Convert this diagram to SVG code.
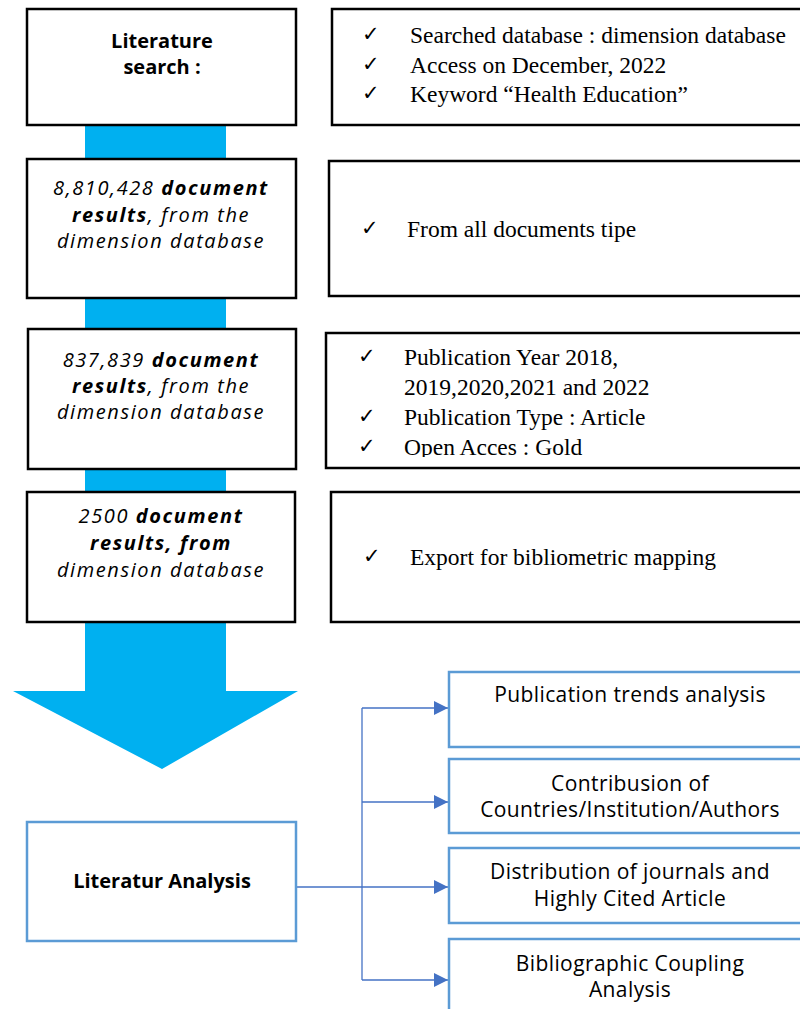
<svg xmlns="http://www.w3.org/2000/svg" width="800" height="1009" viewBox="0 0 800 1009">
<defs>
<style>
.bk{fill:#fff;stroke:#000;stroke-width:2.5}
.bl{fill:#fff;stroke:#5B9BD5;stroke-width:2.5}
.lab{font-family:"Open Sans","Noto Sans",sans-serif;font-size:20px;fill:#000;text-anchor:middle}
.b{font-weight:bold}
.it{font-family:"Open Sans","Noto Sans",sans-serif;font-size:20px;font-style:italic;letter-spacing:1.6px;fill:#000;text-anchor:middle}
.tm{font-family:"Liberation Serif","Times New Roman",serif;font-size:23.5px;fill:#000}
.ck{font-family:"DejaVu Sans",sans-serif;font-size:21px;fill:#000}
.an{font-family:"Open Sans","Noto Sans",sans-serif;font-size:21px;letter-spacing:0.4px;fill:#000;text-anchor:middle}
.cn{fill:none;stroke:#4472C4;stroke-width:1.3}
</style>
<marker id="ah" viewBox="0 0 10 10" refX="10" refY="5" markerWidth="15" markerHeight="14" markerUnits="userSpaceOnUse" orient="auto">
<path d="M0,0 L10,5 L0,10 z" fill="#4472C4"/>
</marker>
<clipPath id="clip3"><rect x="326" y="333" width="480" height="124"/></clipPath>
</defs>

<g id="flow-arrow">
<polygon points="85,125 226,125 226,691 298,691 162,769 13,691 85,691" fill="#00B0F0"/>
</g>

<g id="search">
<rect class="bk" x="27" y="9" width="269" height="116"/>
<text class="lab b" x="162" y="48">Literature</text>
<text class="lab b" x="162" y="74">search :</text>
</g>
<g id="search-criteria">
<rect class="bk" x="332" y="9" width="480" height="116"/>
<text class="ck" x="362" y="41">✓</text><text class="tm" x="410" y="43">Searched database : dimension database</text>
<text class="ck" x="362" y="71">✓</text><text class="tm" x="410" y="73">Access on December, 2022</text>
<text class="ck" x="362" y="100">✓</text><text class="tm" x="410" y="102">Keyword “Health Education”</text>
</g>

<g id="results-1">
<rect class="bk" x="27" y="159" width="269" height="139"/>
<text class="it" x="161" y="195">8,810,428 <tspan font-weight="bold">document</tspan></text>
<text class="it" x="161" y="222"><tspan font-weight="bold">results</tspan>, from the</text>
<text class="it" x="161" y="248">dimension database</text>
</g>
<g id="filter-1">
<rect class="bk" x="329" y="161" width="480" height="135"/>
<text class="ck" x="361" y="235">✓</text><text class="tm" x="407" y="237">From all documents tipe</text>
</g>

<g id="results-2">
<rect class="bk" x="28" y="329" width="268" height="140"/>
<text class="it" x="161" y="367">837,839 <tspan font-weight="bold">document</tspan></text>
<text class="it" x="161" y="393"><tspan font-weight="bold">results</tspan>, from the</text>
<text class="it" x="161" y="419">dimension database</text>
</g>
<g id="filter-2">
<rect class="bk" x="326" y="333" width="480" height="135"/>
<g clip-path="url(#clip3)">
<text class="ck" x="358" y="363">✓</text><text class="tm" x="404" y="365">Publication Year 2018,</text>
<text class="tm" x="404" y="395">2019,2020,2021 and 2022</text>
<text class="ck" x="358" y="423">✓</text><text class="tm" x="404" y="425">Publication Type : Article</text>
<text class="ck" x="358" y="453">✓</text><text class="tm" x="404" y="455">Open Acces : Gold</text>
</g>
</g>

<g id="results-3">
<rect class="bk" x="27" y="492" width="268" height="130"/>
<text class="it" x="161" y="523">2500 <tspan font-weight="bold">document</tspan></text>
<text class="it" x="161" y="550" font-weight="bold">results, from</text>
<text class="it" x="161" y="577">dimension database</text>
</g>
<g id="export">
<rect class="bk" x="331" y="492" width="480" height="130"/>
<text class="ck" x="363" y="563">✓</text><text class="tm" x="410" y="565">Export for bibliometric mapping</text>
</g>

<g id="connectors">
<path class="cn" d="M296,887 H362"/>
<path class="cn" d="M362,708 V980"/>
<path class="cn" d="M362,708 H448" marker-end="url(#ah)"/>
<path class="cn" d="M362,802 H448" marker-end="url(#ah)"/>
<path class="cn" d="M362,887 H448" marker-end="url(#ah)"/>
<path class="cn" d="M362,980 H448" marker-end="url(#ah)"/>
</g>

<g id="literature-analysis">
<rect class="bl" x="27" y="822" width="269" height="119"/>
<text class="lab b" x="162" y="888">Literatur Analysis</text>
</g>
<g id="publication-trends">
<rect class="bl" x="449" y="672" width="370" height="75"/>
<text class="an" x="630" y="702">Publication trends analysis</text>
</g>
<g id="contribution">
<rect class="bl" x="449" y="759" width="370" height="74"/>
<text class="an" x="630" y="791">Contribusion of</text>
<text class="an" x="630" y="817">Countries/Institution/Authors</text>
</g>
<g id="distribution">
<rect class="bl" x="449" y="848" width="370" height="75"/>
<text class="an" x="630" y="879">Distribution of journals and</text>
<text class="an" x="630" y="906">Highly Cited Article</text>
</g>
<g id="coupling">
<rect class="bl" x="449" y="939" width="370" height="90"/>
<text class="an" x="630" y="971">Bibliographic Coupling</text>
<text class="an" x="630" y="997">Analysis</text>
</g>
</svg>
